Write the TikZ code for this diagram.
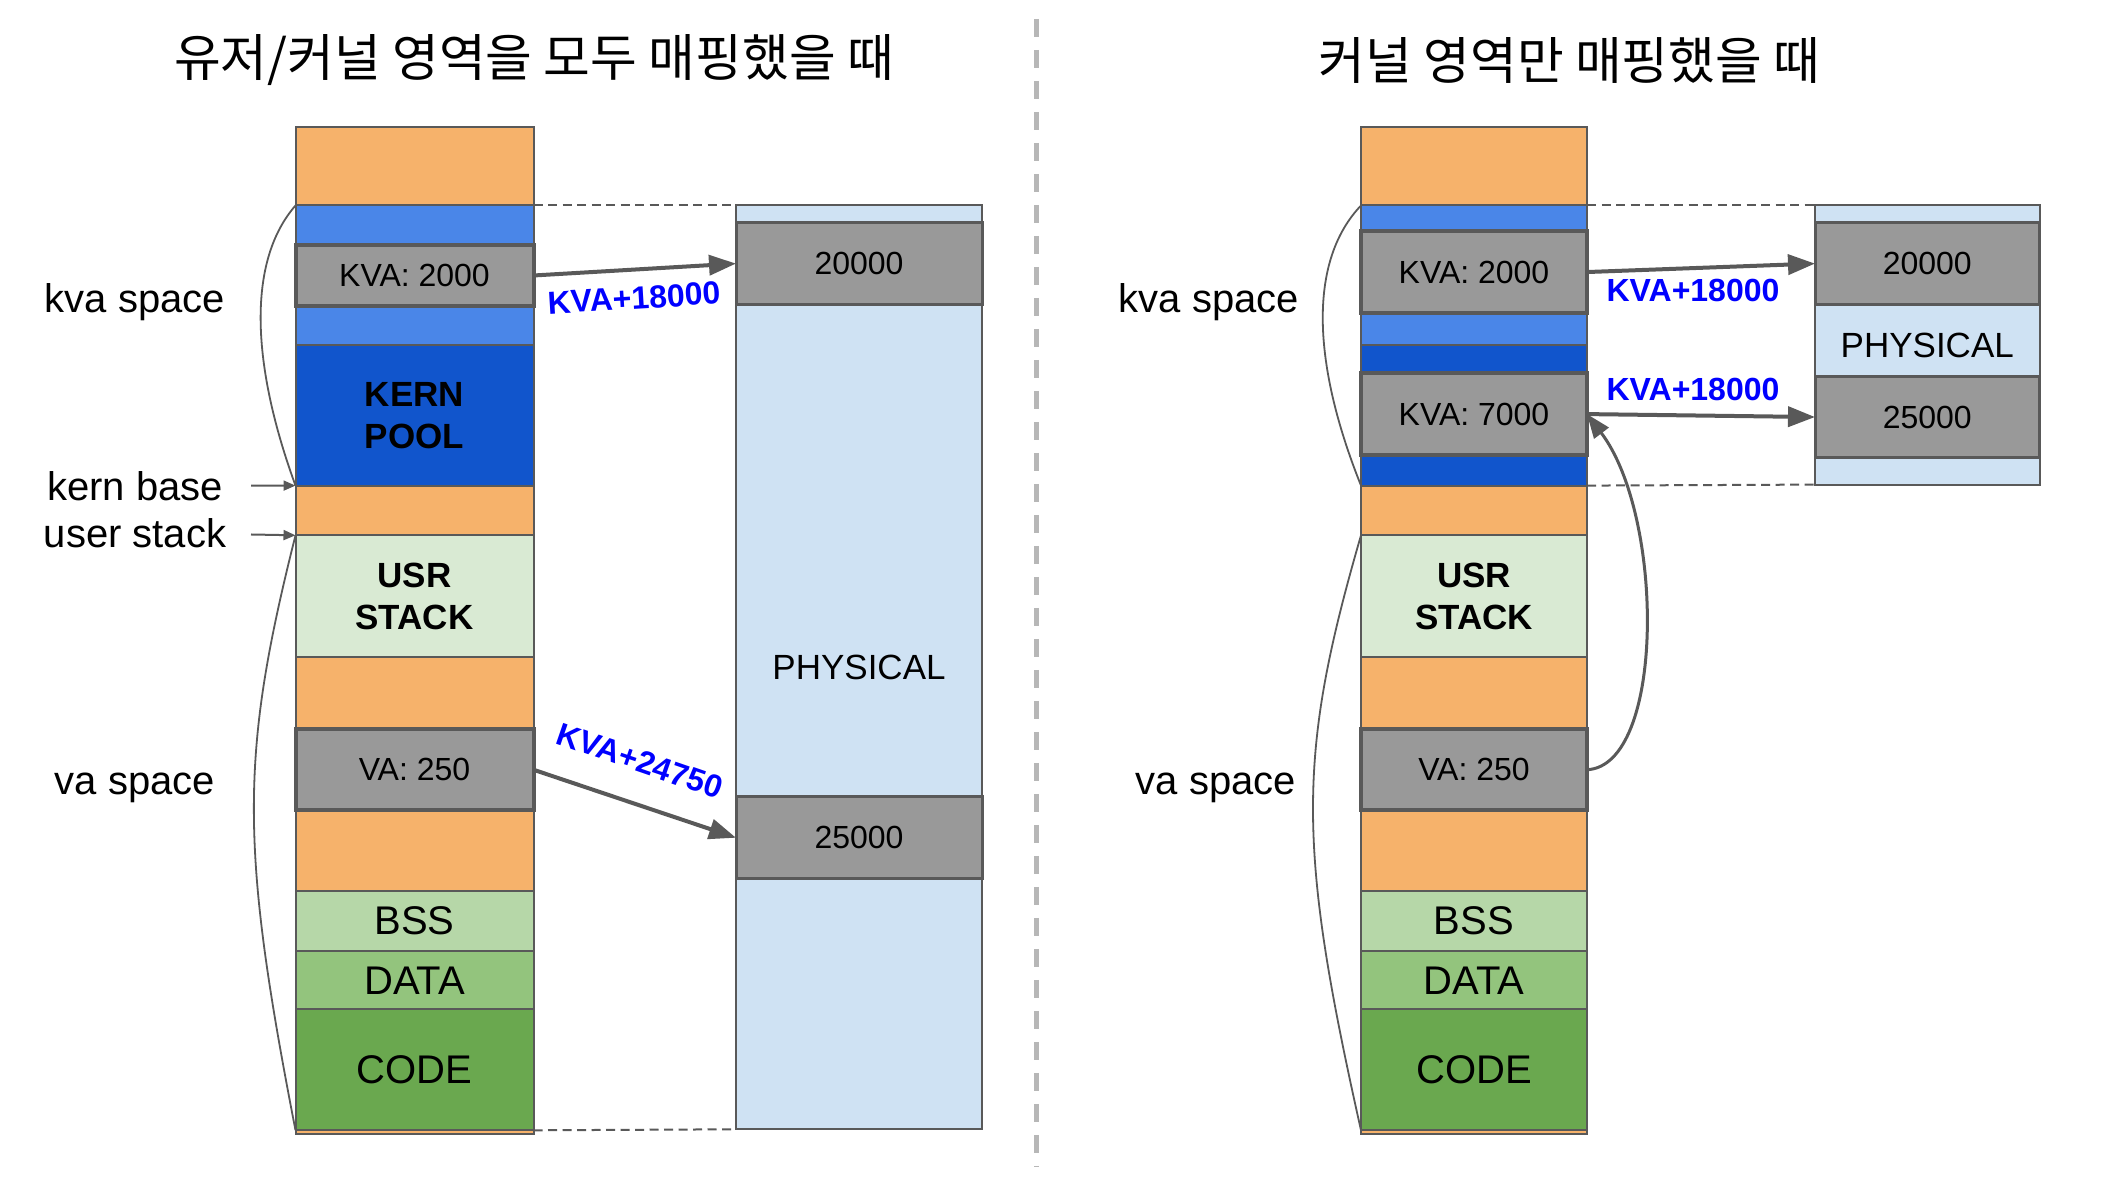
\documentclass[tikz,border=0pt]{standalone}
\usepackage{fontspec}
\setmainfont{Liberation Sans}
\newfontfamily\krfont{Noto Sans CJK KR}
\usetikzlibrary{arrows.meta}
\definecolor{cOrange}{HTML}{F6B26B}
\definecolor{cBlue}{HTML}{4A86E8}
\definecolor{cDBlue}{HTML}{1155CC}
\definecolor{cUsr}{HTML}{D9EAD3}
\definecolor{cBss}{HTML}{B6D7A8}
\definecolor{cData}{HTML}{93C47D}
\definecolor{cCode}{HTML}{6AA84F}
\definecolor{cGray}{HTML}{999999}
\definecolor{cPhys}{HTML}{CFE2F3}
\definecolor{cLine}{HTML}{595959}
\definecolor{cSep}{HTML}{B7B7B7}
\definecolor{cLbl}{HTML}{0000FF}
\begin{document}
\begin{tikzpicture}[x=0.5pt,y=-0.5pt,
  sg/.style 2 args={rectangle, draw=cLine, line width=1pt, fill=#1, inner sep=0pt, outer sep=0pt,
    anchor=north west, minimum height=#2*0.5pt, font=\fontsize{20}{24}\selectfont},
  gbox/.style={rectangle, draw=cLine, line width=2pt, fill=cGray, inner sep=0pt, outer sep=0pt,
    anchor=north west, minimum height=#1*0.5pt, font=\fontsize{16}{19}\selectfont},
  pbox/.style={rectangle, draw=cLine, line width=1.5pt, fill=cGray, inner sep=0pt, outer sep=0pt,
    anchor=north west, minimum height=#1*0.5pt, font=\fontsize{16}{19}\selectfont},
  colL/.style={minimum width=119pt},
  colR/.style={minimum width=113pt},
  physL/.style={minimum width=123pt},
  physR/.style={minimum width=112.25pt},
  boldtxt/.style={font=\fontsize{17.5}{21}\selectfont\bfseries, align=center},
  lab/.style={font=\fontsize{20}{24}\selectfont, inner sep=0pt},
  kval/.style={font=\fontsize{16}{19}\selectfont\bfseries, text=cLbl, inner sep=0pt},
  title/.style={font=\krfont\fontsize{25.4}{30}\selectfont, inner sep=0pt},
  maparrow/.style={draw=cLine, line width=2pt, -{Triangle[length=13.5pt,width=10pt]}},
  curvearrow/.style={draw=cLine, line width=1.5pt, -{Triangle[length=12pt,width=9pt]}},
  smallarrow/.style={draw=cLine, line width=1pt, -{Triangle[length=6pt,width=5pt]}},
  brace/.style={draw=cLine, line width=0.9pt},
  dashline/.style={draw=cLine, line width=1pt, dash pattern=on 4.5pt off 2.75pt},
  sepline/.style={draw=cSep, line width=2.3pt, dash pattern=on 8.85pt off 6.65pt}
]
\useasboundingbox (0,0) rectangle (2106,1186);

% titles
\node[title] (t1) at (534,60.5) {유저/커널 영역을 모두 매핑했을 때};
\node[title] (t2) at (1569.5,60.5) {커널 영역만 매핑했을 때};

% separator
\coordinate (s1) at (1036.3,19);
\coordinate (s2) at (1036.3,1167);
\draw[sepline] (s1) -- (s2);

% ===== left panel column =====
\node[sg={cOrange}{78.5}, colL] (lo1) at (295.5,127) {};
\node[sg={cBlue}{39.7}, colL] (lb1) at (295.5,205.5) {};
\node[sg={cBlue}{39.7}, colL] (lb2) at (295.5,305.8) {};
\node[sg={cDBlue}{140.1}, colL, boldtxt] (lkern) at (295.5,345.5) {KERN\\POOL};
\node[sg={cOrange}{49.7}, colL] (lo2) at (295.5,485.6) {};
\node[sg={cUsr}{122.2}, colL, boldtxt] (lusr) at (295.5,535.3) {USR\\STACK};
\node[sg={cOrange}{71.5}, colL] (lo3) at (295.5,657.5) {};
\node[sg={cOrange}{80.5}, colL] (lo4) at (295.5,810.5) {};
\node[sg={cBss}{60}, colL] (lbss) at (295.5,891) {BSS};
\node[sg={cData}{58.6}, colL] (ldata) at (295.5,951) {DATA};
\node[sg={cCode}{121}, colL] (lcode) at (295.5,1009.3) {CODE};
\node[sg={cOrange}{4}, colL] (lstrip) at (295.5,1130.3) {};
\node[gbox=60.6, colL] (lkva) at (295.5,245.2) {KVA: 2000};
\node[gbox=81.5, colL] (lva) at (295.5,729) {VA: 250};

% left physical
\node[sg={cPhys}{923.8}, physL, font=\fontsize{17.5}{21}\selectfont] (lphys) at (736,205.5) {PHYSICAL};
\node[pbox=82.4, physL] (lp1) at (736,222.4) {20000};
\node[pbox=82.5, physL] (lp2) at (736,796.5) {25000};

% left labels
\node[lab] (lkvasp) at (135,302) {kva space};
\node[lab] (lkb) at (135,486.6) {kern base};
\node[lab] (lus) at (135,533) {user stack};
\node[lab] (lvasp) at (135,787.6) {va space};
\coordinate (kbs) at (251,485.6);
\coordinate (uss) at (251,534.5);
\draw[smallarrow] (kbs) -- (lkern.south west);
\draw[smallarrow] (uss) -- (lusr.north west);

% braces left
\draw[brace] (lb1.north west) .. controls (249,259) and (249,358) .. (lkern.south west);
\draw[brace] (lusr.north west) .. controls (240,756) and (240,845) .. (lcode.south west);

% dashed guides left
\draw[dashline] (lb1.north east) -- (lphys.north west);
\draw[dashline] (lcode.south east) -- (lphys.south west);

% arrows left
\draw[maparrow] (lkva.east) -- (lp1.west);
\draw[maparrow] (lva.east) -- (lp2.west);
\node[kval, rotate=3.4] (lk1) at (634,298) {KVA+18000};
\node[kval, rotate=-19] (lk2) at (640,761) {KVA+24750};

% ===== right panel column =====
\node[sg={cOrange}{78.5}, colR] (ro1) at (1361,127) {};
\node[sg={cBlue}{25.8}, colR] (rb1) at (1361,205.5) {};
\node[sg={cBlue}{32.7}, colR] (rb2) at (1361,312.8) {};
\node[sg={cDBlue}{27.9}, colR] (rdb1) at (1361,345.5) {};
\node[sg={cDBlue}{30.8}, colR] (rdb2) at (1361,454.8) {};
\node[sg={cOrange}{49.7}, colR] (ro2) at (1361,485.6) {};
\node[sg={cUsr}{122.2}, colR, boldtxt] (rusr) at (1361,535.3) {USR\\STACK};
\node[sg={cOrange}{71.5}, colR] (ro3) at (1361,657.5) {};
\node[sg={cOrange}{80.5}, colR] (ro4) at (1361,810.5) {};
\node[sg={cBss}{60}, colR] (rbss) at (1361,891) {BSS};
\node[sg={cData}{58.6}, colR] (rdata) at (1361,951) {DATA};
\node[sg={cCode}{121}, colR] (rcode) at (1361,1009.3) {CODE};
\node[sg={cOrange}{4}, colR] (rstrip) at (1361,1130.3) {};
\node[gbox=81.5, colR] (rkva1) at (1361,231.3) {KVA: 2000};
\node[gbox=81.4, colR] (rkva2) at (1361,373.4) {KVA: 7000};
\node[gbox=81.5, colR] (rva) at (1361,729) {VA: 250};

% right physical
\node[sg={cPhys}{279.1}, physR, font=\fontsize{17.5}{21}\selectfont] (rphys) at (1815,205.5) {PHYSICAL};
\node[pbox=82.4, physR] (rp1) at (1815,222.4) {20000};
\node[pbox=81.5, physR] (rp2) at (1815,376.3) {25000};

% right labels
\node[lab] (rkvasp) at (1209,302) {kva space};
\node[lab] (rvasp) at (1216,787.6) {va space};

% braces right
\draw[brace] (rb1.north west) .. controls (1310,259) and (1310,358) .. (rdb2.south west);
\draw[brace] (rusr.north west) .. controls (1297,756) and (1297,845) .. (rcode.south west);

% dashed guides right
\draw[dashline] (rb1.north east) -- (rphys.north west);
\draw[dashline] (rdb2.south east) -- (rphys.south west);

% arrows right
\draw[maparrow] (rkva1.east) -- (rp1.west);
\draw[maparrow] (rkva2.east) -- (rp2.west);
\draw[curvearrow] (rva.east) .. controls (1665,766) and (1665,517) .. (rkva2.east);
\node[kval] (rk1) at (1693,290) {KVA+18000};
\node[kval] (rk2) at (1693,389) {KVA+18000};
\end{tikzpicture}
\end{document}
